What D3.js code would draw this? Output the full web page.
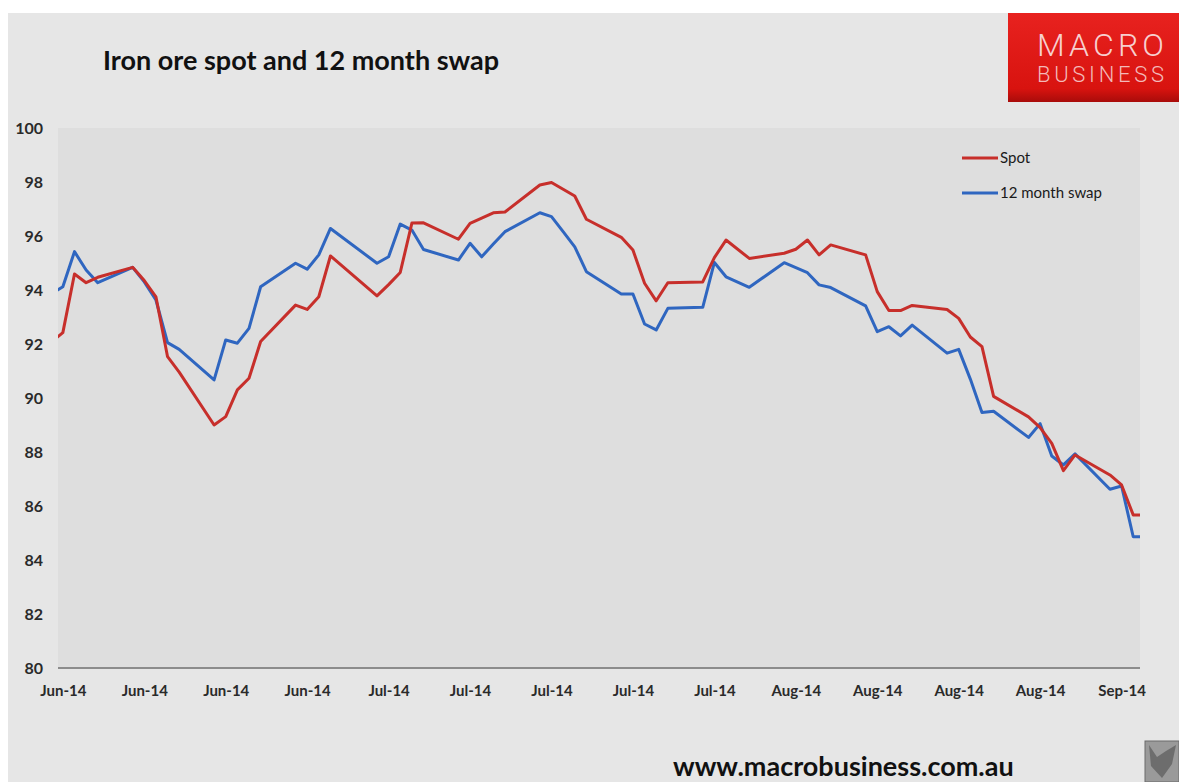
<!DOCTYPE html>
<html><head><meta charset="utf-8">
<script src="https://cdn.jsdelivr.net/npm/d3@7"></script>
<style>body{margin:0;background:#fff}svg{display:block}</style>
</head><body>
<svg id="c" width="1179" height="782"></svg>
<script>
// ---- data ----
const title = "Iron ore spot and 12 month swap";
const seriesNames = ["Spot", "12 month swap"];
const dates = [
 "2014-06-02","2014-06-03","2014-06-04","2014-06-05","2014-06-06",
 "2014-06-09","2014-06-10","2014-06-11","2014-06-12","2014-06-13",
 "2014-06-16","2014-06-17","2014-06-18","2014-06-19","2014-06-20",
 "2014-06-23","2014-06-24","2014-06-25","2014-06-26",
 "2014-06-30","2014-07-01","2014-07-02","2014-07-03","2014-07-04",
 "2014-07-07","2014-07-08","2014-07-09","2014-07-10","2014-07-11",
 "2014-07-14","2014-07-15","2014-07-16","2014-07-17","2014-07-18",
 "2014-07-21","2014-07-22","2014-07-23","2014-07-24","2014-07-25",
 "2014-07-28","2014-07-29","2014-07-30","2014-08-01",
 "2014-08-04","2014-08-05","2014-08-06","2014-08-07","2014-08-08",
 "2014-08-11","2014-08-12","2014-08-13","2014-08-14","2014-08-15",
 "2014-08-18","2014-08-19","2014-08-20","2014-08-21","2014-08-22",
 "2014-08-25","2014-08-26","2014-08-27","2014-08-28","2014-08-29",
 "2014-09-01","2014-09-02","2014-09-03","2014-09-04"
];
const spot = [
 92.07,92.42,94.59,94.27,94.47,
 94.84,94.35,93.75,91.53,90.96,
 89.00,89.31,90.30,90.73,92.09,
 93.44,93.28,93.75,95.26,
 93.78,94.20,94.65,96.48,96.49,
 95.88,96.47,96.66,96.86,96.89,
 97.89,97.98,97.73,97.48,96.62,
 95.95,95.48,94.25,93.60,94.27,
 94.30,95.20,95.85,95.17,
 95.36,95.51,95.85,95.30,95.67,
 95.30,93.94,93.24,93.24,93.43,
 93.28,92.95,92.26,91.90,90.06,
 89.30,88.90,88.32,87.31,87.89,
 87.15,86.78,85.67,85.67
];
const swap = [
 93.85,94.12,95.42,94.74,94.27,
 94.84,94.30,93.63,92.05,91.80,
 90.67,92.15,92.03,92.58,94.12,
 94.99,94.77,95.30,96.28,
 94.99,95.23,96.44,96.22,95.50,
 95.11,95.73,95.23,95.70,96.16,
 96.86,96.72,96.16,95.60,94.68,
 93.85,93.85,92.74,92.52,93.32,
 93.36,95.02,94.49,94.10,
 95.01,94.83,94.64,94.19,94.09,
 93.41,92.46,92.64,92.30,92.70,
 91.66,91.80,90.70,89.46,89.51,
 88.54,89.05,87.85,87.52,87.93,
 86.62,86.74,84.86,84.86
];
const yTicks = [80,82,84,86,88,90,92,94,96,98,100];
const xTickStart = "2014-06-03", xTickEnd = "2014-09-03";
const xDomain = ["2014-06-02 14:00", "2014-09-03 14:00"];
const colors = ["#c72f2b", "#2f66c0"];
const footer = "www.macrobusiness.com.au";

// ---- drawing ----
const svg = d3.select("#c");
const W = 1179, H = 782;
const m = {left: 58, right: 1140, top: 128, bottom: 668};
const parse = d3.timeParse("%Y-%m-%d");
const parseT = d3.timeParse("%Y-%m-%d %H:%M");

// backgrounds
svg.append("rect").attr("x", 0).attr("y", 0).attr("width", W).attr("height", H).attr("fill", "#ffffff");
svg.append("rect").attr("x", 8).attr("y", 13).attr("width", W - 8).attr("height", H - 13).attr("fill", "#e6e6e6");
svg.append("rect").attr("x", m.left).attr("y", m.top).attr("width", m.right - m.left).attr("height", m.bottom - m.top).attr("fill", "#dedede");

const x = d3.scaleTime().domain(xDomain.map(parseT)).range([m.left, m.right]);
const y = d3.scaleLinear().domain([80, 100]).range([m.bottom, m.top]);

// title
svg.append("text").attr("x", 103).attr("y", 70).text(title)
  .attr("font-family", "Lato, 'Open Sans', sans-serif").attr("font-weight", 700)
  .attr("font-size", 27).attr("fill", "#111");

// logo
const defs = svg.append("defs");
const g = defs.append("linearGradient").attr("id", "lg").attr("x1", 0).attr("y1", 0).attr("x2", 0).attr("y2", 1);
g.append("stop").attr("offset", "0%").attr("stop-color", "#e8221f");
g.append("stop").attr("offset", "85%").attr("stop-color", "#d8130f");
g.append("stop").attr("offset", "100%").attr("stop-color", "#a80c0a");
svg.append("rect").attr("x", 1008).attr("y", 13).attr("width", 171).attr("height", 89).attr("fill", "url(#lg)");
svg.append("text").attr("x", 1037).attr("y", 56).text("MACRO")
  .attr("font-family", "Roboto, sans-serif").attr("font-weight", 300).attr("font-size", 32)
  .attr("textLength", 127).attr("lengthAdjust", "spacing").attr("fill", "#f7cfcf");
svg.append("text").attr("x", 1037).attr("y", 82).text("BUSINESS")
  .attr("font-family", "Roboto, sans-serif").attr("font-weight", 300).attr("font-size", 22)
  .attr("textLength", 127).attr("lengthAdjust", "spacing").attr("fill", "#f3b9b9");

// y axis
const yAxis = svg.append("g").attr("transform", `translate(${m.left},0)`)
  .call(d3.axisLeft(y).tickValues(yTicks).tickSize(0).tickPadding(15).tickFormat(d3.format("d")));
yAxis.select(".domain").remove();
yAxis.selectAll("text").attr("font-family", "Lato, sans-serif").attr("font-weight", 700)
  .attr("font-size", 16).attr("fill", "#2a2a2a");

// x axis
const xTicks = d3.timeDay.range(parse(xTickStart), d3.timeDay.offset(parse(xTickEnd), 1), 7);
const xAxis = svg.append("g").attr("transform", `translate(0,${m.bottom})`)
  .call(d3.axisBottom(x).tickValues(xTicks).tickSize(0).tickPadding(17).tickFormat(d3.timeFormat("%b-%y")));
xAxis.select(".domain").attr("stroke", "#8c8c8c").attr("stroke-width", 2)
  .attr("d", `M${m.left},0H${m.right}`);
xAxis.selectAll("text").attr("font-family", "Lato, sans-serif").attr("font-weight", 700)
  .attr("font-size", 15).attr("fill", "#2a2a2a");

// lines
defs.append("clipPath").attr("id", "clip").append("rect")
  .attr("x", m.left).attr("y", 0).attr("width", m.right - m.left).attr("height", H);
const parsed = dates.map(parse);
const line = d3.line().x(d => x(d[0])).y(d => y(d[1]));
const series = [spot, swap];
const lg = svg.append("g").attr("clip-path", "url(#clip)");
[1, 0].forEach(i => {
  lg.append("path").datum(parsed.map((d, j) => [d, series[i][j]]))
    .attr("d", line).attr("fill", "none").attr("stroke", colors[i])
    .attr("stroke-width", 3).attr("stroke-linejoin", "round");
});

// legend
seriesNames.forEach((n, i) => {
  const ly = 158 + i * 35;
  svg.append("line").attr("x1", 962).attr("x2", 998).attr("y1", ly).attr("y2", ly)
    .attr("stroke", colors[i]).attr("stroke-width", 3);
  svg.append("text").attr("x", 1000).attr("y", ly + 5).text(n)
    .attr("font-family", "Lato, sans-serif").attr("font-size", 15).attr("font-weight", 400).attr("fill", "#1a1a1a");
});

// footer
svg.append("text").attr("x", 673).attr("y", 776).text(footer)
  .attr("font-family", "Lato, sans-serif").attr("font-weight", 700).attr("font-size", 27).attr("fill", "#111");

// small badge bottom-right
svg.append("rect").attr("x", 1145).attr("y", 741).attr("width", 34).attr("height", 41)
  .attr("fill", "#9a9a9a").attr("stroke", "#6a6a6a");
svg.append("path").attr("d", "M1149,745 L1157,757 L1166,751 L1176,745 L1172,764 L1162,778 L1151,766 Z")
  .attr("fill", "#5a5a5a").attr("opacity", 0.7);
</script>
</body></html>
